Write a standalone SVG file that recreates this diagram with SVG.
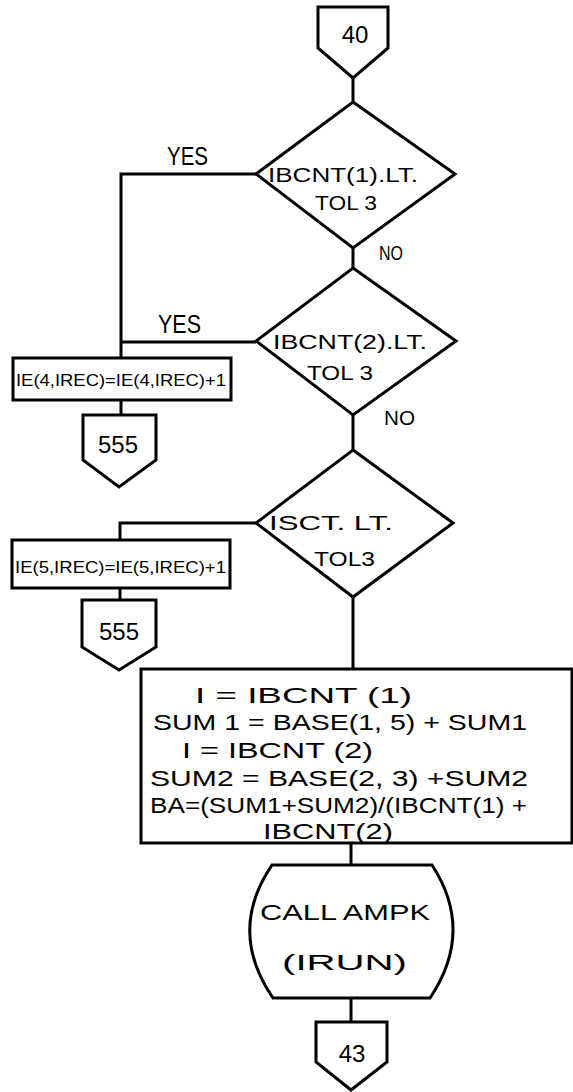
<svg xmlns="http://www.w3.org/2000/svg" width="573" height="1092" viewBox="0 0 573 1092">
<style>
.s{fill:none;stroke:#000;stroke-width:3;stroke-linejoin:miter}
.n{fill:#fff;stroke:#000;stroke-width:3;stroke-linejoin:miter}
text{font-family:"Liberation Sans",Arial,sans-serif;fill:#000}
.t{font-size:20px}
.y{font-size:26px}
.o{font-size:20px}
.c{font-size:24px;text-anchor:middle}
.p{font-size:22px}
.ie{font-size:16px}
</style>
<rect width="573" height="1092" fill="#fff"/>
<g id="connectors" class="s">
<path d="M353 78V102"/>
<path d="M353 248V268"/>
<path d="M353 415V450"/>
<path d="M353 597V669"/>
<path d="M351 843V865"/>
<path d="M351 998V1022"/>
<path d="M256 174H121V358"/>
<path d="M256 342H121"/>
<path d="M121 400V415"/>
<path d="M256 523H120V540"/>
<path d="M120 588V600"/>
</g>
<g id="labels">
<text class="y" x="167" y="165" textLength="41" lengthAdjust="spacingAndGlyphs">YES</text>
<text class="y" x="158" y="333" textLength="43" lengthAdjust="spacingAndGlyphs">YES</text>
<text class="o" x="379" y="260" textLength="24" lengthAdjust="spacingAndGlyphs">NO</text>
<text class="o" x="384" y="425" textLength="31" lengthAdjust="spacingAndGlyphs">NO</text>
</g>
<g id="c40">
<polygon class="n" points="318,7 388,7 388,48 353,78 318,48"/>
<text class="c" x="355" y="43">40</text>
</g>
<g id="d1">
<polygon class="n" points="353,102 455,174 353,248 256,174"/>
<text class="t" x="268" y="182" textLength="150" lengthAdjust="spacingAndGlyphs">IBCNT(1).LT.</text>
<text class="t" x="315" y="210" textLength="62" lengthAdjust="spacingAndGlyphs">TOL 3</text>
</g>
<g id="d2">
<polygon class="n" points="353,268 456,341 353,415 256,341"/>
<text class="t" x="273" y="349" textLength="154" lengthAdjust="spacingAndGlyphs">IBCNT(2).LT.</text>
<text class="t" x="307" y="380" textLength="66" lengthAdjust="spacingAndGlyphs">TOL 3</text>
</g>
<g id="d3">
<polygon class="n" points="353,450 453,523 353,597 256,523"/>
<text class="t" x="269" y="530" textLength="124" lengthAdjust="spacingAndGlyphs">ISCT. LT.</text>
<text class="t" x="314" y="566" textLength="61" lengthAdjust="spacingAndGlyphs">TOL3</text>
</g>
<g id="b4">
<rect class="n" x="13" y="358" width="218" height="42"/>
<text class="ie" x="16" y="386" textLength="210" lengthAdjust="spacingAndGlyphs">IE(4,IREC)=IE(4,IREC)+1</text>
</g>
<g id="s1">
<polygon class="n" points="83,415 156,415 156,460 119,487 83,460"/>
<text class="c" x="118" y="453">555</text>
</g>
<g id="b5">
<rect class="n" x="12" y="540" width="218" height="48"/>
<text class="ie" x="15" y="573" textLength="211" lengthAdjust="spacingAndGlyphs">IE(5,IREC)=IE(5,IREC)+1</text>
</g>
<g id="s2">
<polygon class="n" points="82,600 156,600 156,647 119,670 82,647"/>
<text class="c" x="119" y="640">555</text>
</g>
<g id="proc">
<rect class="n" x="141" y="669" width="431" height="174"/>
<text class="p" x="195" y="703" textLength="217" lengthAdjust="spacingAndGlyphs">I = IBCNT (1)</text>
<text class="p" x="153" y="730" textLength="374" lengthAdjust="spacingAndGlyphs">SUM 1 = BASE(1, 5) + SUM1</text>
<text class="p" x="182" y="758" textLength="191" lengthAdjust="spacingAndGlyphs">I = IBCNT (2)</text>
<text class="p" x="150" y="786" textLength="378" lengthAdjust="spacingAndGlyphs">SUM2 = BASE(2, 3) +SUM2</text>
<text class="p" x="150" y="813" textLength="377" lengthAdjust="spacingAndGlyphs">BA=(SUM1+SUM2)/(IBCNT(1) +</text>
<text class="p" x="263" y="839" textLength="130" lengthAdjust="spacingAndGlyphs">IBCNT(2)</text>
</g>
<g id="call">
<path class="n" d="M272 865H432Q475 931 430 998H273Q227 931 272 865Z"/>
<text class="p" x="260" y="920" textLength="170" lengthAdjust="spacingAndGlyphs">CALL AMPK</text>
<text class="p" x="282" y="970" textLength="125" lengthAdjust="spacingAndGlyphs">(IRUN)</text>
</g>
<g id="c43">
<polygon class="n" points="316,1022 387,1022 387,1062 351,1090 316,1062"/>
<text class="c" x="352" y="1062">43</text>
</g>
</svg>
